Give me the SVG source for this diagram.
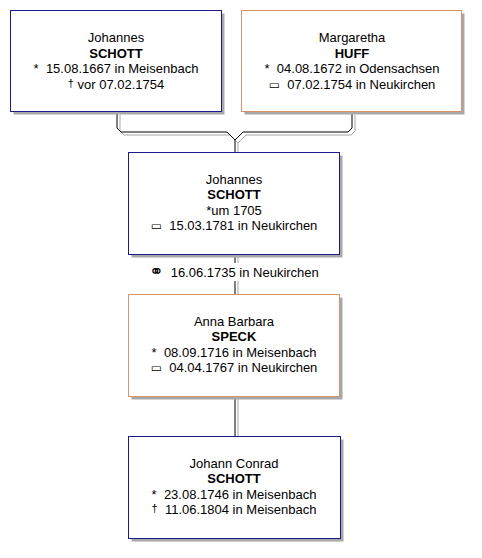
<svg xmlns="http://www.w3.org/2000/svg" width="482" height="558" viewBox="0 0 482 558">
<style>
.bg{fill:#ffffff}
.sh{fill:#a8a8a8}
.m{fill:#ffffff;stroke:#1a1a8a;stroke-width:1}
.f{fill:#ffffff;stroke:#d9936b;stroke-width:1}
text{font-family:"Liberation Sans",Arial,sans-serif;font-size:13px;fill:#000;text-anchor:middle;white-space:pre}
.b{font-weight:bold}
.sym{font-size:11px}
.bur{font-family:"DejaVu Sans",sans-serif;font-size:12px}
.c{fill:none;stroke:#000;stroke-width:1}
.cs{fill:none;stroke:#a8a8a8;stroke-width:1}
</style>
<rect class="bg" x="0" y="0" width="482" height="558"/>
<g id="connectors">
<path class="cs" d="M120,115 V131 L124,135 H230 L238,143 V155 M355,115 V131 L351,135 H246 L238,143"/>
<path class="c" d="M117,112 V128 L121,132 H227 L235,140 V152 M352,112 V128 L348,132 H243 L235,140"/>
<path class="cs" d="M238,255 V294"/>
<path class="c" d="M235,255 V294"/>
<path class="cs" d="M238,397 V436"/>
<path class="c" d="M235,397 V436"/>
<rect class="bg" x="148" y="263" width="172" height="18"/>
<text x="234" y="277" xml:space="preserve"><tspan font-family="DejaVu Sans" font-size="17">⚭</tspan>  16.06.1735 in Neukirchen</text>
</g>
<g id="n1">
<rect class="sh" x="13.5" y="13.5" width="211" height="101"/>
<rect class="m" x="10.5" y="10.5" width="211" height="101"/>
<text x="116" y="42">Johannes</text>
<text x="116" y="57.5" class="b">SCHOTT</text>
<text x="116" y="73" xml:space="preserve">*  15.08.1667 in Meisenbach</text>
<text x="116" y="88.5" xml:space="preserve"><tspan class="sym" dy="-2">†</tspan><tspan dy="2"> vor 07.02.1754</tspan></text>
</g>
<g id="n2">
<rect class="sh" x="244.5" y="13.5" width="220" height="101"/>
<rect class="f" x="241.5" y="10.5" width="220" height="101"/>
<text x="352" y="42">Margaretha</text>
<text x="352" y="57.5" class="b">HUFF</text>
<text x="352" y="73" xml:space="preserve">*  04.08.1672 in Odensachsen</text>
<text x="352" y="88.5" xml:space="preserve"><tspan class="bur">▭</tspan>  07.02.1754 in Neukirchen</text>
</g>
<g id="n3">
<rect class="sh" x="131.5" y="155.5" width="211" height="102"/>
<rect class="m" x="128.5" y="152.5" width="211" height="102"/>
<text x="234" y="183.5">Johannes</text>
<text x="234" y="199" class="b">SCHOTT</text>
<text x="234" y="214.5">*um 1705</text>
<text x="234" y="230" xml:space="preserve"><tspan class="bur">▭</tspan>  15.03.1781 in Neukirchen</text>
</g>
<g id="n4">
<rect class="sh" x="131.5" y="297.5" width="211" height="102"/>
<rect class="f" x="128.5" y="294.5" width="211" height="102"/>
<text x="234" y="325.5">Anna Barbara</text>
<text x="234" y="341" class="b">SPECK</text>
<text x="234" y="356.5" xml:space="preserve">*  08.09.1716 in Meisenbach</text>
<text x="234" y="372" xml:space="preserve"><tspan class="bur">▭</tspan>  04.04.1767 in Neukirchen</text>
</g>
<g id="n5">
<rect class="sh" x="131.5" y="439.5" width="212" height="102"/>
<rect class="m" x="128.5" y="436.5" width="212" height="102"/>
<text x="234" y="467.5">Johann Conrad</text>
<text x="234" y="483" class="b">SCHOTT</text>
<text x="234" y="498.5" xml:space="preserve">*  23.08.1746 in Meisenbach</text>
<text x="234" y="514" xml:space="preserve"><tspan class="sym" dy="-2">†</tspan><tspan dy="2">  11.06.1804 in Meisenbach</tspan></text>
</g>
</svg>
